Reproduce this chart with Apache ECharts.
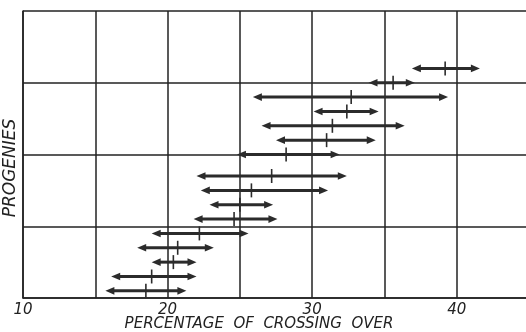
<!doctype html>
<html lang="en">
<head>
  <meta charset="UTF-8">
  <title>Percentage of crossing over</title>
  <style>
    html, body { margin: 0; padding: 0; background: #fff; }
    #chart { width: 526px; height: 332px; }
  </style>
  <script src="https://cdn.jsdelivr.net/npm/echarts@6/dist/echarts.min.js"></script>
</head>
<body>
  <div id="chart"></div>
  <script>
    // row position of each progeny (in grid rows, 0 = bottom)
    var rows = [3.2, 3.0, 2.8, 2.6, 2.4, 2.2, 2.0, 1.7, 1.5, 1.3, 1.1, 0.9, 0.7, 0.5, 0.3, 0.1];
    // range of crossing over (%) and the mean
    var lows = [36.9, 33.9, 25.9, 30.1, 26.5, 27.5, 24.8, 22.0, 22.3, 22.9, 21.8, 18.9, 17.9, 18.9, 16.1, 15.7];
    var highs = [41.6, 37.1, 39.4, 34.6, 36.4, 34.4, 31.9, 32.4, 31.1, 27.3, 27.6, 25.6, 23.2, 22.0, 22.0, 21.3];
    var means = [39.2, 35.6, 32.7, 32.4, 31.4, 31.0, 28.2, 27.2, 25.8, 25.0, 24.6, 22.2, 20.7, 20.4, 18.9, 18.5];
    var xTickLabels = ['10', '20', '30', '40'];

    var ink = '#2b2b2b';
    var data = [];
    for (var i = 0; i < rows.length; i++) {
      data.push([rows[i], lows[i], highs[i], means[i]]);
    }

    function renderItem(params, api) {
      var y = api.value(0);
      var a = api.coord([api.value(1), y]);
      var b = api.coord([api.value(2), y]);
      var c = api.coord([api.value(3), y]);
      var ah = 9, aw = 3.8;
      return {
        type: 'group',
        children: [
          { type: 'line', shape: { x1: a[0] + ah - 1, y1: a[1], x2: b[0] - ah + 1, y2: b[1] },
            style: { stroke: ink, lineWidth: 3 } },
          { type: 'polygon', shape: { points: [[a[0], a[1]], [a[0] + ah, a[1] - aw], [a[0] + ah, a[1] + aw]] },
            style: { fill: ink } },
          { type: 'polygon', shape: { points: [[b[0], b[1]], [b[0] - ah, b[1] - aw], [b[0] - ah, b[1] + aw]] },
            style: { fill: ink } },
          { type: 'line', shape: { x1: c[0], y1: c[1] - 7, x2: c[0], y2: c[1] + 7 },
            style: { stroke: ink, lineWidth: 1.6 } }
        ]
      };
    }

    var myChart = echarts.init(document.getElementById('chart'));
    var option = {
      backgroundColor: '#fff',
      animation: false,
      grid: { left: 23, top: 11, width: 506, height: 287, outerBoundsMode: 'none', containLabel: false },
      xAxis: {
        type: 'value',
        min: 10,
        max: 45,
        interval: 5,
        name: 'PERCENTAGE  OF  CROSSING  OVER',
        nameLocation: 'middle',
        nameGap: 19,
        nameMoveOverlap: false,
        nameTextStyle: { color: '#222', fontStyle: 'italic', fontSize: 15, fontFamily: 'DejaVu Sans', padding: [0, 34, 0, 0] },
        axisLine: { lineStyle: { color: '#222', width: 1.5 } },
        axisTick: { show: false },
        axisLabel: {
          color: '#222', fontStyle: 'italic', fontSize: 15, fontFamily: 'DejaVu Sans', margin: 5,
          formatter: function (v) { return xTickLabels.indexOf(String(v)) >= 0 ? String(v) : ''; }
        },
        splitLine: { show: true, lineStyle: { color: '#222', width: 1.5 } }
      },
      yAxis: {
        type: 'value',
        min: 0,
        max: 4,
        interval: 1,
        name: 'PROGENIES',
        nameLocation: 'middle',
        nameGap: 4,
        nameTextStyle: { color: '#222', fontStyle: 'italic', fontSize: 17, fontFamily: 'DejaVu Sans', padding: [0, 27, 0, 0] },
        axisLine: { show: true, lineStyle: { color: '#222', width: 1.5 } },
        axisTick: { show: false },
        axisLabel: { show: false },
        splitLine: { show: true, lineStyle: { color: '#222', width: 1.5 } }
      },
      series: [{
        type: 'custom',
        renderItem: renderItem,
        encode: { x: [1, 2, 3], y: 0 },
        data: data
      }]
    };
    myChart.setOption(option);
  </script>
</body>
</html>
